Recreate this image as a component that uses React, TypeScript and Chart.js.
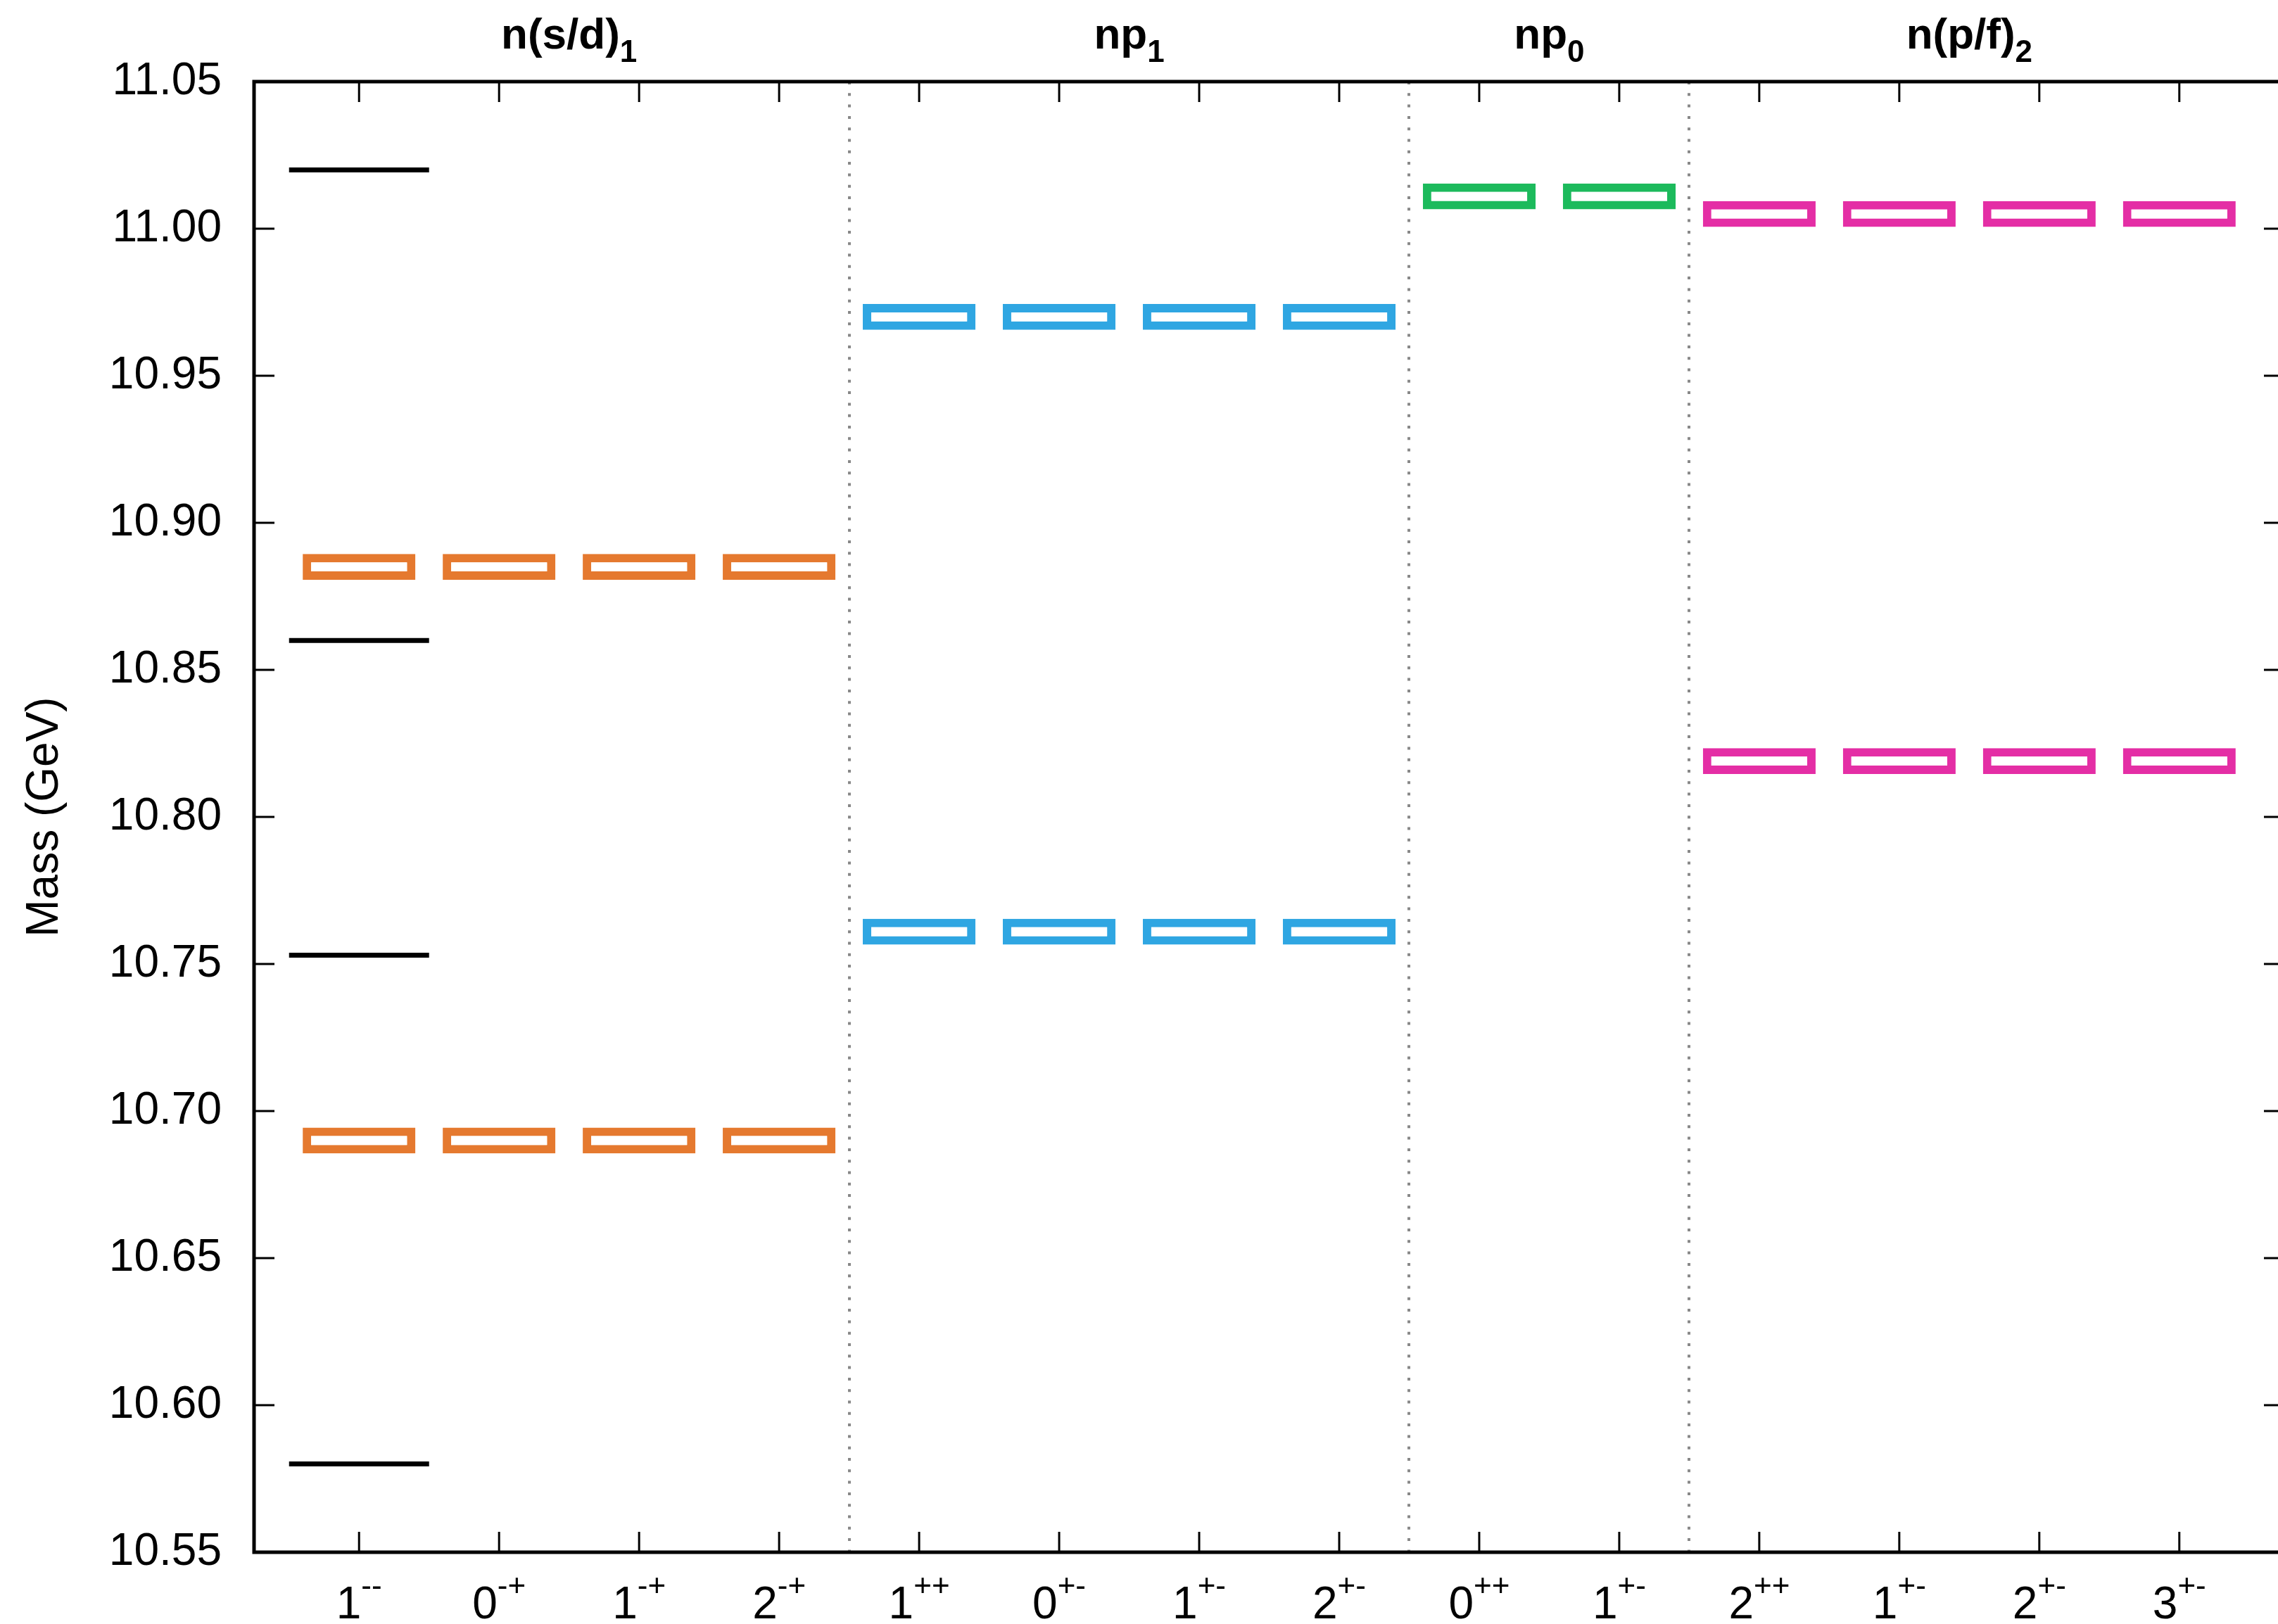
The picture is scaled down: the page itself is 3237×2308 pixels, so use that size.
import { useEffect, useRef } from 'react';
import { Chart, registerables } from 'chart.js';

Chart.register(...registerables);

// ---------- data ----------
const jLabels = ['1', '0', '1', '2', '1', '0', '1', '2', '0', '1', '2', '1', '2', '3'];
const pcLabels = ['--', '-+', '-+', '-+', '++', '+-', '+-', '+-', '++', '+-', '++', '+-', '+-', '+-'];
const massTicks = [10.55, 10.6, 10.65, 10.7, 10.75, 10.8, 10.85, 10.9, 10.95, 11.0, 11.05];

const groupNames = ['n(s/d)', 'np', 'np', 'n(p/f)'];
const groupSubs = ['1', '1', '0', '2'];
const groupFirst = [0, 4, 8, 10];
const groupLast = [3, 7, 9, 13];
const groupLevels = [
  [10.885, 10.69],
  [10.97, 10.761],
  [11.011],
  [11.005, 10.819],
];
const groupColors = ['#E5792F', '#2FA6E2', '#1CBA5C', '#E42EA5'];

const expCategory = 0;
const expMasses = [11.02, 10.86, 10.753, 10.58];

// ---------- styling constants ----------
const BOX_HALF = 0.0044;
const FONT = '"Liberation Sans", Arial, Helvetica, sans-serif';
const CANVAS_W = 3260;
const CANVAS_H = 2308;

const framePlugin = {
  id: 'frame',
  beforeDatasetsDraw(chart: any) {
    const { ctx, chartArea: a, scales } = chart;
    const x = scales.x;
    ctx.save();
    ctx.strokeStyle = '#888888';
    ctx.lineWidth = 4;
    ctx.setLineDash([4, 12.3]);
    for (let g = 0; g < groupFirst.length - 1; g++) {
      const px = Math.round(x.getPixelForValue((groupLast[g] + groupFirst[g + 1]) / 2));
      ctx.beginPath();
      ctx.moveTo(px, a.top);
      ctx.lineTo(px, a.bottom);
      ctx.stroke();
    }
    ctx.restore();
  },
  afterDraw(chart: any) {
    const { ctx, chartArea: a, scales } = chart;
    const x = scales.x;
    const y = scales.y;
    ctx.save();
    ctx.setLineDash([]);
    ctx.strokeStyle = '#000';
    ctx.lineWidth = 3;
    const TL = 29;
    const seg = (x1: number, y1: number, x2: number, y2: number) => {
      ctx.beginPath();
      ctx.moveTo(x1, y1);
      ctx.lineTo(x2, y2);
      ctx.stroke();
    };
    x.ticks.forEach((t: any) => {
      const px = x.getPixelForValue(t.value);
      seg(px, a.bottom, px, a.bottom - TL);
      seg(px, a.top, px, a.top + TL);
    });
    y.ticks.forEach((t: any) => {
      const py = y.getPixelForValue(t.value);
      seg(a.left, py, a.left + TL, py);
      seg(a.right, py, a.right - TL, py);
    });
    ctx.lineWidth = 5;
    ctx.strokeRect(a.left, a.top, a.right - a.left, a.bottom - a.top);

    ctx.fillStyle = '#000';
    ctx.textAlign = 'left';
    ctx.textBaseline = 'alphabetic';

    const drawScript = (
      main: string,
      script: string,
      cx: number,
      baseline: number,
      mainFont: string,
      scriptFont: string,
      shift: number
    ) => {
      ctx.font = mainFont;
      const w1 = ctx.measureText(main).width;
      ctx.font = scriptFont;
      const w2 = ctx.measureText(script).width;
      const sx = cx - (w1 + w2) / 2;
      ctx.font = mainFont;
      ctx.fillText(main, sx, baseline);
      ctx.font = scriptFont;
      ctx.fillText(script, sx + w1, baseline + shift);
    };

    // x tick labels with superscripts
    x.ticks.forEach((t: any) => {
      const i = Math.round(t.value);
      const px = x.getPixelForValue(t.value);
      drawScript(jLabels[i], pcLabels[i], px, a.bottom + 94, `64px ${FONT}`, `44px ${FONT}`, -32);
    });

    // group labels with subscripts
    for (let g = 0; g < groupNames.length; g++) {
      const cx = (x.getPixelForValue(groupFirst[g]) + x.getPixelForValue(groupLast[g])) / 2;
      drawScript(groupNames[g], groupSubs[g], cx, a.top - 47, `bold 62px ${FONT}`, `bold 44px ${FONT}`, 19);
    }
    ctx.restore();
  },
};

export default function App() {
  const ref = useRef<HTMLCanvasElement | null>(null);

  useEffect(() => {
    if (!ref.current) return;

    const boxDatasets = groupLevels.map((levels, g) => {
      const data: any[] = [];
      levels.forEach((m) => {
        for (let c = groupFirst[g]; c <= groupLast[g]; c++) {
          data.push({ x: c, y: [m - BOX_HALF, m + BOX_HALF] });
        }
      });
      return {
        type: 'bar' as const,
        data,
        borderColor: groupColors[g],
        backgroundColor: '#ffffff',
        borderWidth: 12,
        borderSkipped: false,
        grouped: false,
        barPercentage: 1,
        categoryPercentage: 0.805,
      };
    });

    const expDatasets = expMasses.map((m) => ({
      type: 'line' as const,
      data: [
        { x: expCategory - 0.5, y: m },
        { x: expCategory + 0.5, y: m },
      ],
      borderColor: '#000000',
      borderWidth: 7,
      borderCapStyle: 'butt',
      pointRadius: 0,
      fill: false,
    }));

    const chart = new Chart(ref.current, {
      type: 'bar',
      data: { datasets: [...expDatasets, ...boxDatasets] as any },
      options: {
        animation: false,
        responsive: false,
        devicePixelRatio: 1,
        events: [],
        layout: { padding: { top: 116, right: 14, bottom: 0, left: 0 } },
        plugins: { legend: { display: false }, tooltip: { enabled: false } },
        scales: {
          x: {
            type: 'linear',
            min: -0.75,
            max: 13.75,
            offset: false,
            grid: { display: false },
            border: { display: false },
            ticks: { display: false },
            afterBuildTicks: (scale: any) => {
              scale.ticks = jLabels.map((_, i) => ({ value: i }));
            },
            afterFit: (scale: any) => {
              scale.height = 102;
            },
          },
          y: {
            type: 'linear',
            min: 10.55,
            max: 11.05,
            grid: { display: false },
            border: { display: false },
            ticks: {
              color: '#000',
              padding: 38,
              font: { family: FONT, size: 64 },
              callback: (v: any) => Number(v).toFixed(2),
            },
            afterBuildTicks: (scale: any) => {
              scale.ticks = massTicks.map((v) => ({ value: v }));
            },
            afterFit: (scale: any) => {
              scale.width = 361;
            },
            title: {
              display: true,
              text: 'Mass (GeV)',
              color: '#000',
              font: { family: FONT, size: 64 },
              padding: { top: 26, bottom: 0 },
            },
          },
        },
      } as any,
      plugins: [framePlugin],
    });

    return () => chart.destroy();
  }, []);

  return (
    <div
      style={{
        position: 'fixed',
        left: 0,
        top: 0,
        width: 3237,
        height: 2308,
        overflow: 'hidden',
        background: '#ffffff',
      }}
    >
      <canvas ref={ref} width={CANVAS_W} height={CANVAS_H} style={{ display: 'block' }} />
    </div>
  );
}
